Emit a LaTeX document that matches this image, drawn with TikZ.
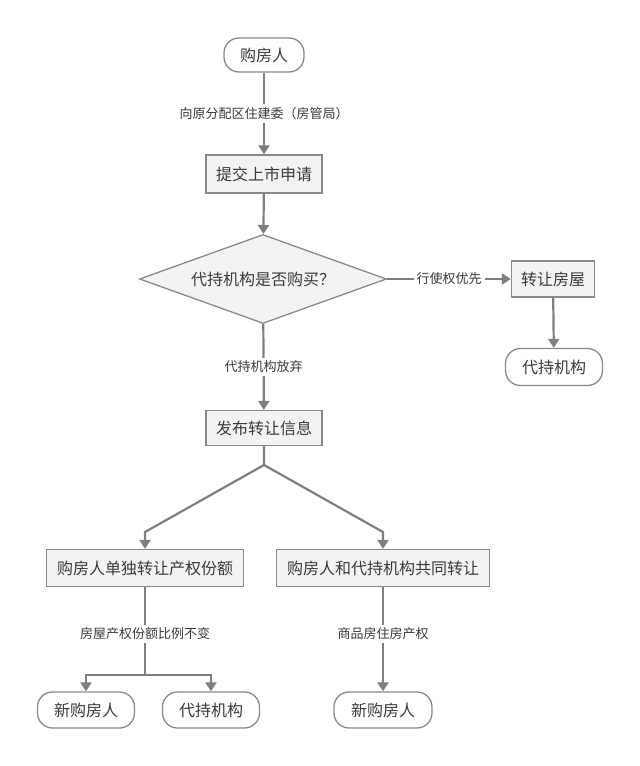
\documentclass[tikz,border=0pt]{standalone}
\usepackage{fontspec}
\setmainfont{Noto Sans CJK SC}
\usetikzlibrary{arrows.meta,shapes.geometric}
\definecolor{linec}{HTML}{7F7F7F}
\definecolor{boxc}{HTML}{8A8A8A}
\definecolor{fillc}{HTML}{F3F3F3}
\definecolor{textc}{HTML}{3A3A3A}
\tikzset{
  box/.style={draw=boxc, line width=1.3pt, fill=fillc, text=textc, font=\fontsize{16}{16}\selectfont, inner sep=0pt, minimum height=36pt},
  pill/.style={box, rounded corners=15pt, fill=white},
  flow/.style={draw=linec, line width=2.2pt, -{Triangle[length=9pt,width=11pt]}},
  plain/.style={draw=linec, line width=2.2pt},
  lbl/.style={fill=white, text=textc, font=\fontsize{13}{13}\selectfont, inner sep=3pt},
}
\begin{document}
\begin{tikzpicture}[x=1pt,y=-1pt]
\useasboundingbox (0,0) rectangle (640,766);
\node[pill, minimum width=80pt, minimum height=34pt] (a) at (264,55) {购房人};
\node[box, minimum width=116pt, minimum height=38pt] (b) at (264,174) {提交上市申请};
\node[box, diamond, aspect=2.78, minimum width=247pt, minimum height=89pt] (c) at (263,279) {代持机构是否购买？};
\node[box, minimum width=83pt] (d) at (553,279) {转让房屋};
\node[pill, minimum width=97pt, minimum height=37pt] (e) at (554,367) {代持机构};
\node[box, minimum width=116pt, minimum height=35pt] (f) at (264,428) {发布转让信息};
\node[box, minimum width=197pt, minimum height=37pt] (g) at (145,568) {购房人单独转让产权份额};
\node[box, minimum width=213pt, minimum height=37pt] (h) at (383,568) {购房人和代持机构共同转让};
\node[pill, minimum width=97pt] (i) at (86,710) {新购房人};
\node[pill, minimum width=97pt] (j) at (211,710) {代持机构};
\node[pill, minimum width=98pt] (k) at (383,710) {新购房人};
\coordinate (fj) at (264,465);
\coordinate (lj) at (145,532);
\coordinate (rj) at (383,532);
\coordinate (gj) at (145,675);
\draw[flow] (a) -- node[lbl]{向原分配区住建委（房管局）} (b);
\draw[flow] (b) -- (c);
\draw[flow] (c) -- node[lbl]{行使权优先} (d);
\draw[flow] (d) -- (e);
\draw[flow] (c) -- node[lbl]{代持机构放弃} (f);
\draw[flow] (f.south) -- (fj) -- (lj) -- (g.north);
\draw[flow] (fj) -- (rj) -- (h.north);
\draw[plain] (g.south) -- node[lbl, pos=0.53]{房屋产权份额比例不变} (gj);
\draw[flow] (gj) -| (i.north);
\draw[flow] (gj) -| (j.north);
\draw[flow] (h) -- node[lbl, pos=0.45]{商品房住房产权} (k);
\end{tikzpicture}
\end{document}
